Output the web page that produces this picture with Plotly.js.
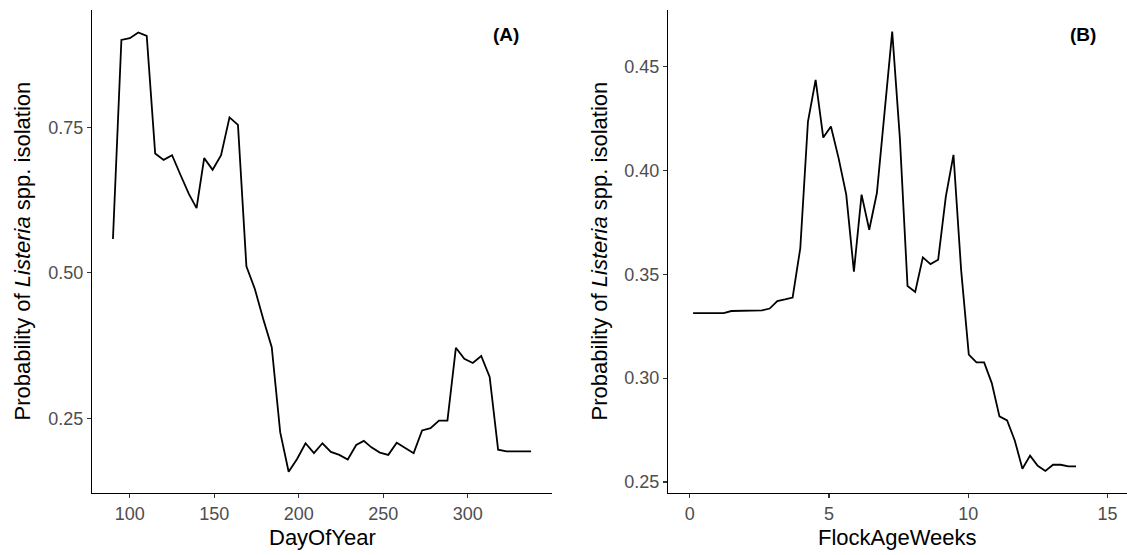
<!DOCTYPE html>
<html>
<head>
<meta charset="utf-8">
<script src="https://cdn.plot.ly/plotly-3.0.1.min.js"></script>
<style>
  html, body { margin: 0; padding: 0; background: #ffffff; }
  #chart { width: 1127px; height: 555px; }
</style>
</head>
<body>
<div id="chart"></div>
<script>
// Partial dependence of Listeria isolation probability on day of year (A)
const dayOfYear = [90, 95, 100, 105, 110, 115, 120, 125, 130, 135,
  139.5, 144, 149, 154, 159, 164, 169, 174, 179, 184,
  189, 194, 199, 204, 209, 214, 219, 224, 229, 234,
  238.5, 243, 248, 253, 258, 263, 268, 273, 278, 283,
  288, 293, 298, 303, 308, 313, 318, 323, 328, 333, 337.5];
const probByDay = [0.558, 0.900, 0.903, 0.913, 0.907, 0.705, 0.694, 0.702, 0.668, 0.635,
  0.611, 0.697, 0.677, 0.702, 0.767, 0.754, 0.511, 0.472, 0.420, 0.372,
  0.226, 0.158, 0.180, 0.207, 0.190, 0.207, 0.192, 0.187, 0.179, 0.204,
  0.211, 0.200, 0.191, 0.187, 0.208, 0.199, 0.190, 0.229, 0.233, 0.246,
  0.246, 0.371, 0.352, 0.345, 0.357, 0.321, 0.196, 0.193, 0.193, 0.193, 0.193];

// Partial dependence on flock age in weeks (B)
const flockAgeWeeks = [0.12, 0.395, 0.67, 0.945, 1.22, 1.495, 1.77, 2.045, 2.32, 2.595,
  2.87, 3.145, 3.42, 3.695, 3.97, 4.245, 4.52, 4.795, 5.07, 5.345,
  5.62, 5.895, 6.17, 6.445, 6.72, 6.995, 7.27, 7.545, 7.82, 8.095,
  8.37, 8.645, 8.92, 9.195, 9.47, 9.745, 10.02, 10.295, 10.57, 10.845,
  11.12, 11.395, 11.67, 11.945, 12.22, 12.495, 12.77, 13.045, 13.32, 13.595, 13.87];
const probByAge = [0.3313, 0.3313, 0.3313, 0.3313, 0.3313, 0.3323, 0.3323, 0.3323, 0.3323, 0.3326,
  0.3335, 0.3371, 0.3379, 0.3388, 0.3626, 0.4235, 0.4436, 0.4158, 0.4211, 0.4059,
  0.3883, 0.3513, 0.3883, 0.3714, 0.3891, 0.4276, 0.4668, 0.4155, 0.3443, 0.3415,
  0.3581, 0.3549, 0.3570, 0.3874, 0.4075, 0.3520, 0.3113, 0.3076, 0.3076, 0.2976,
  0.2816, 0.2796, 0.2700, 0.2564, 0.2627, 0.2578, 0.2553, 0.2583, 0.2583, 0.2575, 0.2575];

const dayTicks = [100, 150, 200, 250, 300];
const probTicksA = [0.25, 0.50, 0.75];
const ageTicks = [0, 5, 10, 15];
const probTicksB = [0.25, 0.30, 0.35, 0.40, 0.45];

const yTitle = 'Probability of <i>Listeria</i> spp. isolation';
const fontFamily = '"Liberation Sans", Arial, sans-serif';

const W = 1127, H = 555;
const px = v => v / W;
const py = v => 1 - v / H;

function axisStyle(extra) {
  return Object.assign({
    showline: true, linecolor: '#000000', linewidth: 1.1,
    showgrid: false, zeroline: false,
    ticks: 'outside', ticklen: 4, tickwidth: 1.1, tickcolor: '#333333',
    tickfont: { family: fontFamily, size: 18, color: '#4D4D4D' },
    automargin: false, fixedrange: true
  }, extra);
}

const traces = [
  { x: dayOfYear, y: probByDay, type: 'scatter', mode: 'lines',
    line: { color: '#000000', width: 1.8 }, xaxis: 'x', yaxis: 'y', hoverinfo: 'x+y' },
  { x: flockAgeWeeks, y: probByAge, type: 'scatter', mode: 'lines',
    line: { color: '#000000', width: 1.8 }, xaxis: 'x2', yaxis: 'y2', hoverinfo: 'x+y' }
];

const titleFont = { family: fontFamily, size: 22, color: '#000000' };

function label(text, x, y, font, angle) {
  return { text: text, xref: 'paper', yref: 'paper', x: px(x), y: py(y),
    xanchor: 'center', yanchor: 'middle', textangle: angle || 0,
    showarrow: false, font: font };
}

const panelFont = { family: fontFamily, size: 19, color: '#000000' };

const layout = {
  width: W, height: H,
  margin: { l: 0, r: 0, t: 0, b: 0 },
  paper_bgcolor: '#ffffff', plot_bgcolor: '#ffffff',
  showlegend: false,
  xaxis: axisStyle({
    domain: [px(92), px(552)], anchor: 'y',
    range: [77.6, 349.9], tickvals: dayTicks
  }),
  yaxis: axisStyle({
    domain: [py(493), py(10)], anchor: 'x',
    range: [0.1215, 0.9515], tickvals: probTicksA, tickformat: '.2f'
  }),
  xaxis2: axisStyle({
    domain: [px(668), px(1127)], anchor: 'y2',
    range: [-0.78, 15.7], tickvals: ageTicks
  }),
  yaxis2: axisStyle({
    domain: [py(493), py(10)], anchor: 'x2',
    range: [0.2447, 0.4772], tickvals: probTicksB, tickformat: '.2f'
  }),
  annotations: [
    label('<b>(A)</b>', 506, 34, panelFont),
    label('<b>(B)</b>', 1083, 34, panelFont),
    label('DayOfYear', 322, 537, titleFont),
    label('FlockAgeWeeks', 897.5, 537, titleFont),
    label(yTitle, 22, 251.5, titleFont, -90),
    label(yTitle, 599, 251.5, titleFont, -90)
  ]
};

Plotly.newPlot('chart', traces, layout, { displayModeBar: false, staticPlot: true });
</script>
</body>
</html>
